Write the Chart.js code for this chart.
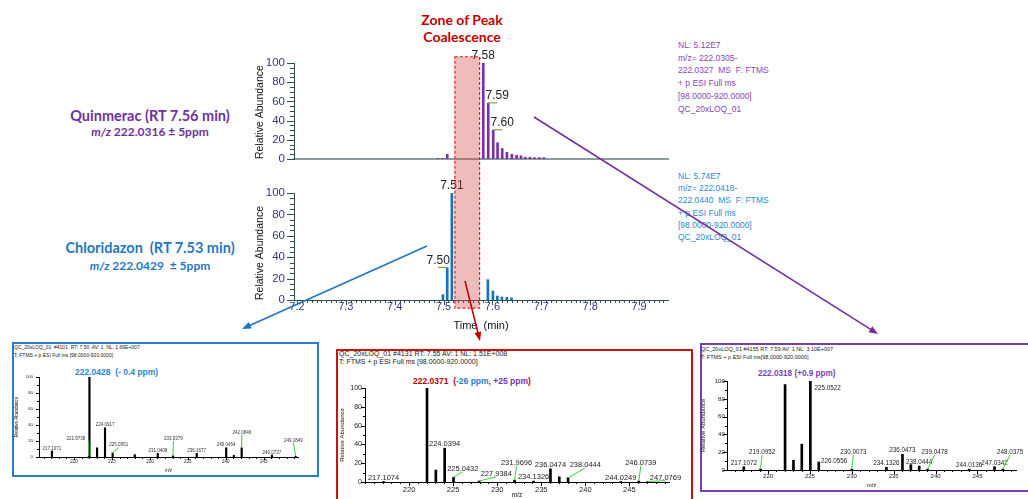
<!DOCTYPE html>
<html>
<head>
<meta charset="utf-8">
<script src="https://cdn.jsdelivr.net/npm/chart.js@4.4.1/dist/chart.umd.min.js"></script>
<style>
html, body { margin: 0; padding: 0; background: #fff; }
#page { position: relative; width: 1028px; height: 499px; overflow: hidden; font-family: "Liberation Sans", Arial, sans-serif; }
#page canvas { position: absolute; }
.t { position: absolute; white-space: pre; }
.cal { font-family: Lato, "Open Sans", sans-serif; font-weight: bold; text-align: center; }
.frame { position: absolute; box-sizing: border-box; border: 2px solid; }
</style>
</head>
<body>
<div id="page">
  <div class="t cal" style="left:402px; top:11px; width:120px; font-size:14px; line-height:17px; color:#c00000;">Zone of Peak
Coalescence</div>

  <div class="t cal" style="left:40px; top:107px; width:220px; font-size:14.5px; color:#7030a0;">Quinmerac (RT 7.56 min)</div>
  <div class="t cal" style="left:40px; top:124px; width:220px; font-size:12px; color:#7030a0;"><i>m/z</i> 222.0316 ± 5ppm</div>
  <div class="t cal" style="left:40px; top:239px; width:220px; font-size:14.5px; color:#1f77c4;">Chloridazon  (RT 7.53 min)</div>
  <div class="t cal" style="left:40px; top:258px; width:220px; font-size:12px; color:#1f77c4;"><i>m/z</i> 222.0429  ± 5ppm</div>

  <div class="t" style="left:678px; top:39px; font-size:8.5px; line-height:12.7px; color:#8a45c0;">NL: 5.12E7
m/z= 222.0305-
222.0327  MS  F: FTMS
+ p ESI Full ms
[98.0000-920.0000]
QC_20xLOQ_01</div>
  <div class="t" style="left:678px; top:170px; font-size:8.5px; line-height:12.2px; color:#2b8ad6;">NL: 5.74E7
m/z= 222.0418-
222.0440  MS  F: FTMS
+ p ESI Full ms
[98.0000-920.0000]
QC_20xLOQ_01</div>

  <div class="frame" style="left:12px; top:342px; width:307px; height:135px; border-color:#2a7dcc;"></div>
  <div class="t" style="left:14px; top:344px; font-size:5px; line-height:7.7px; color:#222;">QC_20xLOQ_01  #4101  RT: 7.50  AV: 1  NL: 1.66E+007
T: FTMS + p ESI Full ms [98.0000-920.0000]</div>
  <div class="t" style="left:75px; top:367px; font-size:8.5px; font-weight:bold; color:#2a86d8;">222.0428  (- 0.4 ppm)</div>

  <div class="frame" style="left:336px; top:349px; width:357px; height:152px; border-color:#cc1111;"></div>
  <div class="t" style="left:339px; top:350px; font-size:7px; line-height:8px; color:#222;">QC_20xLOQ_01 #4131 RT: 7.55 AV: 1 NL: 1.51E+008
T: FTMS + p ESI Full ms [98.0000-920.0000]</div>
  <div class="t" style="left:413px; top:376px; font-size:8.5px; font-weight:bold; color:#c00000;">222.0371  (<span style="color:#1f7fc8">-26 ppm</span>, <span style="color:#7a30b0">+25 ppm</span>)</div>

  <div class="frame" style="left:700px; top:343px; width:340px; height:149px; border-color:#7a3fb5;"></div>
  <div class="t" style="left:701px; top:345px; font-size:5.5px; line-height:8px; color:#222;">QC_20xLOQ_01 #4155 RT: 7.59 AV: 1 NL: 3.10E+007
T: FTMS + p ESI Full ms[98.0000-920.0000]</div>
  <div class="t" style="left:758px; top:369px; font-size:8.2px; font-weight:bold; color:#7a3fb5;">222.0318 (+0.9 ppm)</div>

  <canvas id="quin"></canvas>
  <canvas id="chlor"></canvas>
  <canvas id="specL"></canvas>
  <canvas id="specM"></canvas>
  <canvas id="specR"></canvas>
  <canvas id="overlay" width="1028" height="499" style="left:0;top:0;"></canvas>
</div>

<script>
// ---- chromatograms: retention time (min) vs relative abundance (%)
const quinTime  = [7.4884, 7.4980, 7.5075, 7.5812, 7.5914, 7.6016, 7.6105, 7.6200, 7.6296, 7.6398, 7.6494, 7.6583, 7.6671, 7.6767, 7.6862, 7.6958, 7.7053];
const quinAbund = [0.8, 0.8, 5, 100, 58, 30, 17, 11, 7, 5, 4, 3.4, 2, 2, 1.5, 1.5, 1.5];
const quinPeakText = [[7.5812, '7.58'], [7.5914, '7.59'], [7.6016, '7.60']];

const chlorTime  = [7.4986, 7.5075, 7.5170, 7.5907, 7.6010, 7.6100, 7.6194, 7.6296, 7.6390];
const chlorAbund = [5, 30, 100, 19, 8.4, 3.7, 2.8, 2.5, 2];
const chlorPeakText = [[7.5075, '7.50'], [7.5170, '7.51']];

const timeTicks  = [7.2, 7.3, 7.4, 7.5, 7.6, 7.7, 7.8, 7.9];
const abundTicks = [0, 20, 40, 60, 80, 100];
const zoneTime   = [7.5232, 7.5737];

// ---- mass spectra: m/z vs relative abundance (%)
const mzTicks = [220, 225, 230, 235, 240, 245];

// RT 7.50
const specLMz = [217.1071, 221.9738, 222.0428, 223.0461, 224.0917, 225.0951, 228.0120, 231.0408, 233.0379, 236.1677, 240.0454, 241.0500, 242.0846, 246.0737, 249.1849];
const specLAb = [7.5, 1, 100, 11.5, 36.5, 5, 3, 4.5, 1.5, 4.5, 11.5, 2, 11.5, 2.5, 1];
const specLLabeled = [217.1071, 221.9738, 224.0917, 225.0951, 231.0408, 233.0379, 236.1677, 240.0454, 242.0846, 246.0737, 249.1849];
const specLCallouts = [[221.9738, 221.9, 20, 'r'], [225.0951, 225.9, 12], [233.0379, 233.1, 20], [242.0846, 242.1, 28], [249.1849, 248.9, 18]];

// RT 7.55
const specMMz = [217.1074, 222.0371, 223.0400, 224.0394, 225.0432, 227.9384, 231.9696, 234.1326, 236.0474, 237.0500, 238.0444, 244.0249, 246.0739, 247.0769];
const specMAb = [0.5, 100, 12.7, 36, 5, 1, 2, 1, 14, 5.5, 4.5, 0.5, 1, 0.5];
const specMLabeled = [217.1074, 224.0394, 225.0432, 227.9384, 231.9696, 234.1326, 236.0474, 238.0444, 244.0249, 246.0739, 247.0769];
const specMCallouts = [[225.0432, 226.1, 11], [227.9384, 229.9, 5.5], [231.9696, 232.2, 17], [238.0444, 240.0, 15], [246.0739, 246.3, 17], [247.0769, 249.1, 1.5]];

// RT 7.59
const specRMz = [217.1072, 219.0952, 222.0318, 223.0350, 224.0290, 225.0522, 226.0556, 230.0073, 234.1326, 236.0473, 237.0500, 238.0444, 239.0478, 244.0136, 247.0342, 248.0375];
const specRAb = [3.7, 1, 96, 11, 29, 100, 9, 1, 3, 17.6, 6, 4.5, 1, 1, 3.7, 1];
const specRLabeled = [217.1072, 219.0952, 225.0522, 226.0556, 230.0073, 234.1326, 236.0473, 238.0444, 239.0478, 244.0136, 247.0342, 248.0375];
const specRCallouts = [[219.0952, 219.3, 17], [225.0522, 227.1, 89, 'n'], [226.0556, 227.9, 6.5, 'n'], [230.0073, 230.2, 17], [239.0478, 239.9, 17], [248.0375, 248.9, 17]];

const FONT = '"Liberation Sans", Arial, sans-serif';

// small tick marks on the axes (Chart.js has no minor ticks)
function tickMarks(s) {
  return {
    id: 'tickMarks',
    afterDraw(chart) {
      const { ctx, chartArea: a, scales: { x, y } } = chart;
      ctx.save();
      ctx.strokeStyle = s.color;
      ctx.lineWidth = 1;
      ctx.beginPath();
      const isMajor = (sc, v) => sc.ticks.some(t => Math.abs(t.value - v) < 1e-6);
      if (s.yStep) {
        for (let i = Math.ceil(y.min / s.yStep - 1e-6); i * s.yStep <= y.max + 1e-6; i++) {
          const v = i * s.yStep, p = Math.round(y.getPixelForValue(v)) + 0.5;
          ctx.moveTo(a.left, p);
          ctx.lineTo(a.left - (isMajor(y, v) ? s.yLen[0] : s.yLen[1]), p);
        }
      }
      if (s.xStep) {
        for (let i = Math.ceil(x.min / s.xStep - 1e-6); i * s.xStep <= x.max + 1e-6; i++) {
          const v = i * s.xStep, p = Math.round(x.getPixelForValue(v)) + 0.5;
          ctx.moveTo(p, a.bottom);
          ctx.lineTo(p, a.bottom + (isMajor(x, v) ? s.xLen[0] : s.xLen[1]));
        }
      }
      ctx.stroke();
      ctx.restore();
    }
  };
}

// peak annotations: text above the bar, or moved with a green leader line
function peakText(items, s) {
  return {
    id: 'peakText',
    afterDatasetsDraw(chart) {
      const { ctx, scales: { x, y } } = chart;
      ctx.save();
      ctx.font = s.font;
      ctx.fillStyle = s.color;
      ctx.strokeStyle = '#3ccf3c';
      ctx.lineWidth = s.leaderW || 1;
      items.forEach(it => {
        const px = x.getPixelForValue(it.x), py = y.getPixelForValue(it.y);
        let tx = px + (it.dx || 0), ty = py - s.gap;
        ctx.textAlign = 'center';
        if (it.lx !== undefined) {
          tx = x.getPixelForValue(it.lx);
          ty = y.getPixelForValue(it.ly);
          if (it.mode !== 'n') {
            ctx.beginPath(); ctx.moveTo(px, py); ctx.lineTo(tx, ty); ctx.stroke();
          }
          if (it.mode === 'r') { ctx.textAlign = 'right'; tx -= 3; }
          ty -= 1;
        } else if (it.dx) {
          ctx.strokeStyle = s.under || '#3ccf3c';
          ctx.beginPath(); ctx.moveTo(px, py - 0.5); ctx.lineTo(tx, py - 0.5); ctx.stroke();
          ctx.strokeStyle = '#3ccf3c';
        }
        ctx.fillText(it.text, tx, ty);
      });
      ctx.restore();
    }
  };
}

function plot(id, box, d) {
  const cv = document.getElementById(id);
  cv.width = box.w; cv.height = box.h;
  cv.style.left = box.x + 'px'; cv.style.top = box.y + 'px';
  return new Chart(cv, {
    type: 'bar',
    data: {
      datasets: [{
        data: d.xs.map((v, i) => ({ x: v, y: d.ys[i] })),
        backgroundColor: d.color,
        barThickness: d.barW,
        borderWidth: 0
      }]
    },
    options: {
      responsive: false,
      animation: false,
      devicePixelRatio: 1,
      layout: { padding: { left: 0, top: box.top, right: box.w - box.right, bottom: 0 } },
      plugins: { legend: { display: false }, tooltip: { enabled: false } },
      scales: {
        x: {
          type: 'linear', min: d.xMin, max: d.xMax, offset: false,
          grid: { display: false, drawTicks: false, offset: false },
          border: { display: true, color: d.xBorder, width: d.xBorderW || 1 },
          ticks: {
            display: d.xLabels !== false, autoSkip: false, maxRotation: 0,
            padding: d.xPad, color: d.tickColor, font: { family: FONT, size: d.xFont },
            callback: v => d.xFmt(v)
          },
          title: {
            display: !!d.xTitle, text: d.xTitle, color: '#111',
            font: { family: FONT, size: d.xTitleFont }, padding: { top: 0, bottom: d.xTitlePad || 0 }
          },
          afterBuildTicks: s => { s.ticks = d.xTicks.map(v => ({ value: v })); },
          afterFit: s => { s.height = box.h - box.bottom; }
        },
        y: {
          type: 'linear', min: 0, max: 100,
          grid: { display: false, drawTicks: false },
          border: { display: true, color: d.yBorder, width: 1 },
          ticks: { padding: d.yPad, color: d.tickColor, font: { family: FONT, size: d.yFont } },
          title: {
            display: true, text: 'Relative Abundance', color: '#111', align: d.yTitleAlign || 'center',
            font: { family: FONT, size: d.yTitleFont }, padding: { top: d.yTitlePad || 0, bottom: 0 }
          },
          afterBuildTicks: s => { s.ticks = abundTicks.map(v => ({ value: v })); },
          afterFit: s => { s.width = box.left; }
        }
      }
    },
    plugins: [tickMarks(d.marks), peakText(d.text, d.textStyle)]
  });
}

function spectrumText(mz, ab, labeled, callouts) {
  return labeled.map(m => {
    const i = mz.indexOf(m);
    const it = { x: m, y: ab[i], text: m.toFixed(4) };
    const c = callouts.find(c => c[0] === m);
    if (c) { it.lx = c[1]; it.ly = c[2]; it.mode = c[3]; }
    return it;
  });
}

const topBox = { x: 240, y: 40, w: 440, h: 135, left: 54, right: 428, top: 23, bottom: 130 };
const botBox = { x: 240, y: 170, w: 440, h: 165, left: 54, right: 428, top: 23, bottom: 130 };
const lBox = { x: 14, y: 365, w: 302, h: 111, left: 25, right: 284, top: 12, bottom: 92 };
const mBox = { x: 339, y: 366, w: 351, h: 133, left: 26, right: 330, top: 22, bottom: 116 };
const rBox = { x: 700, y: 360, w: 328, h: 130, left: 27, right: 316, top: 21, bottom: 110 };

const chromaCommon = {
  xMin: 7.1939, xMax: 7.9593, xTicks: timeTicks, xFmt: v => v.toFixed(1),
  barW: 2, tickColor: '#35358a', yBorder: '#2f4f4f', yFont: 11.5, yPad: 9,
  yTitleFont: 10.5, yTitlePad: 14, yTitleAlign: 'start',
  textStyle: { font: '12px ' + FONT, color: '#222', gap: 4, under: '#6b8e23' }
};

const quinChart = plot('quin', topBox, Object.assign({}, chromaCommon, {
  xs: quinTime, ys: quinAbund, color: '#7a2fa8',
  xLabels: false, xBorder: '#8d9c9c', xBorderW: 2,
  marks: { color: '#2f4f4f', yStep: 5, yLen: [7, 4] },
  text: quinPeakText.map(([t, s], i) => ({ x: t, y: quinAbund[quinTime.indexOf(t)], text: s, dx: i === 0 ? 0 : 9 }))
}));

const chlorChart = plot('chlor', botBox, Object.assign({}, chromaCommon, {
  xs: chlorTime, ys: chlorAbund, color: '#1670c4',
  xBorder: '#2f4f4f', xFont: 11, xPad: 0, xTitle: 'Time  (min)', xTitleFont: 11, xTitlePad: 2,
  marks: { color: '#2f4f4f', yStep: 5, yLen: [7, 4], xStep: 0.01, xLen: [5, 3] },
  text: chlorPeakText.map(([t, s], i) => ({ x: t, y: chlorAbund[chlorTime.indexOf(t)], text: s, dx: i === 0 ? -9 : 0 }))
}));

const specCommon = { xTicks: mzTicks, xFmt: v => String(v), color: '#000', tickColor: '#222', xBorder: '#000', yBorder: '#000', xTitle: 'm/z' };

plot('specL', lBox, Object.assign({}, specCommon, {
  xs: specLMz, ys: specLAb, xMin: 215.4, xMax: 249.5, barW: 1.5,
  xFont: 4.5, xPad: 2, xTitleFont: 4.5, xTitlePad: 3, yFont: 4.3, yPad: 6, yTitleFont: 4.5,
  marks: { color: '#000', yStep: 10, yLen: [3, 2], xStep: 1, xLen: [3, 2] },
  text: spectrumText(specLMz, specLAb, specLLabeled, specLCallouts),
  textStyle: { font: '4.5px ' + FONT, color: '#333', gap: 1.5 }
}));

plot('specM', mBox, Object.assign({}, specCommon, {
  xs: specMMz, ys: specMAb, xMin: 215.0, xMax: 249.5, barW: 2,
  xFont: 7.5, xPad: 3, xTitleFont: 6.5, xTitlePad: 0, yFont: 7, yPad: 3, yTitleFont: 6,
  marks: { color: '#000', yStep: 10, yLen: [4, 2], xStep: 1, xLen: [4, 2] },
  text: spectrumText(specMMz, specMAb, specMLabeled, specMCallouts),
  textStyle: { font: '7.5px ' + FONT, color: '#222', gap: 2 }
}));

plot('specR', rBox, Object.assign({}, specCommon, {
  xs: specRMz, ys: specRAb, xMin: 215.1, xMax: 249.6, barW: 2,
  xFont: 6, xPad: 3, xTitleFont: 6, xTitlePad: 1, yFont: 6.2, yPad: 2, yTitleFont: 6,
  marks: { color: '#000', yStep: 10, yLen: [4, 2], xStep: 1, xLen: [4, 2] },
  text: spectrumText(specRMz, specRAb, specRLabeled, specRCallouts),
  textStyle: { font: '6.3px ' + FONT, color: '#222', gap: 2 }
}));

// zone of peak coalescence and the arrows that point to the spectra
(function overlay() {
  const ctx = document.getElementById('overlay').getContext('2d');
  const bx = chlorChart.scales.x;
  const x0 = bx.getPixelForValue(zoneTime[0]) + botBox.x;
  const x1 = bx.getPixelForValue(zoneTime[1]) + botBox.x;
  const y0 = quinChart.scales.y.getPixelForValue(106.5) + topBox.y;
  const y1 = chlorChart.scales.y.getPixelForValue(-7.5) + botBox.y;
  ctx.fillStyle = 'rgba(210, 70, 70, 0.36)';
  ctx.fillRect(x0, y0, x1 - x0, y1 - y0);
  ctx.strokeStyle = '#e02020';
  ctx.lineWidth = 1.2;
  ctx.setLineDash([3, 2]);
  ctx.strokeRect(x0, y0, x1 - x0, y1 - y0);
  ctx.setLineDash([]);

  function arrow(ax, ay, bx2, by, color) {
    const ang = Math.atan2(by - ay, bx2 - ax), L = 9, W = 3.5;
    ctx.strokeStyle = color; ctx.fillStyle = color; ctx.lineWidth = 1.6;
    ctx.beginPath(); ctx.moveTo(ax, ay);
    ctx.lineTo(bx2 - Math.cos(ang) * L * 0.8, by - Math.sin(ang) * L * 0.8); ctx.stroke();
    ctx.beginPath();
    ctx.moveTo(bx2, by);
    ctx.lineTo(bx2 - Math.cos(ang) * L + Math.sin(ang) * W, by - Math.sin(ang) * L - Math.cos(ang) * W);
    ctx.lineTo(bx2 - Math.cos(ang) * L - Math.sin(ang) * W, by - Math.sin(ang) * L + Math.cos(ang) * W);
    ctx.closePath(); ctx.fill();
  }
  arrow(427, 246, 242, 329, '#1f77c4');
  arrow(465, 281, 480, 341, '#c00000');
  arrow(534, 117, 878, 334, '#7030a0');
})();
</script>
</body>
</html>
